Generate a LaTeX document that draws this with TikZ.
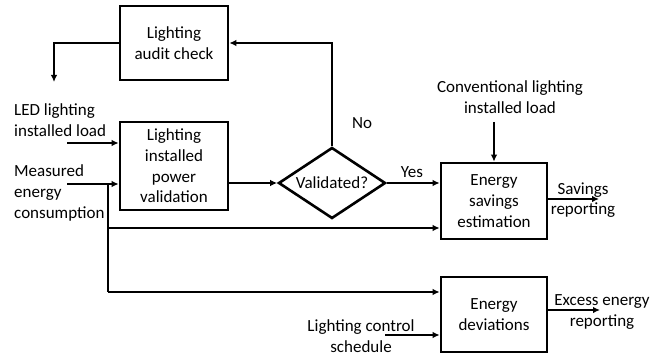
\documentclass[tikz,border=0pt]{standalone}
\usepackage{fontspec}
\setmainfont{Carlito}
\usetikzlibrary{shapes.geometric,arrows.meta}
\begin{document}
\begin{tikzpicture}[x=1pt,y=-1pt,
  every node/.style={font=\fontsize{17}{20.7}\selectfont},
  box/.style={draw, line width=2.6pt, minimum width=106pt, align=center, inner sep=0pt},
  dia/.style={draw, diamond, line width=2.6pt, minimum width=107pt, minimum height=71pt, inner sep=0pt},
  lbl/.style={inner sep=0pt, align=center},
  conn/.style={line width=1.4pt, -{Latex[length=7pt,width=6.5pt]}},
  wire/.style={line width=1.4pt}]
\useasboundingbox (0,0) rectangle (671,358);
% boxes
\node[box, minimum width=108pt, minimum height=74pt] (audit) at (174,43) {Lighting\\audit check};
\node[box, minimum width=108pt, minimum height=88pt] (valid) at (174,166) {Lighting\\installed\\power\\validation};
\node[dia] (val) at (332,183) {\makebox[0pt]{Validated?}};
\node[box, minimum height=76pt] (sav) at (494,201) {Energy\\savings\\estimation};
\node[box, minimum height=75pt] (dev) at (494,314.5) {Energy\\deviations};
% labels
\node[lbl, anchor=west, align=left] (led) at (14,120) {LED lighting\\installed load};
\node[lbl, anchor=west, align=left] (meas) at (14,193) {Measured\\energy\\consumption};
\node[lbl] (conv) at (510,97) {Conventional lighting\\installed load};
\node[lbl] (no) at (362,123) {No};
\node[lbl] (yes) at (412,172) {Yes};
\node[lbl] (savr) at (583,200) {Savings\\reporting};
\node[lbl] (exr) at (602,312) {Excess energy\\reporting};
\node[lbl] (sch) at (361,336) {Lighting control\\schedule};
% coordinates
\coordinate (auditout) at (54,82);
\coordinate (ledin) at (67,143);
\coordinate (measin) at (67,184);
\coordinate (j) at (108,184);
\coordinate (mid) at (108,228);
\coordinate (lo) at (108,292);
\coordinate (convout) at (494,122);
\coordinate (savout) at (599,199);
\coordinate (devout) at (600,310);
\coordinate (schin) at (385,335);
% connectors
\draw[conn] (audit.west) -| (auditout);
\draw[conn] (val.north) |- (audit.east);
\draw[conn] (ledin) -- (ledin -| valid.west);
\draw[conn] (measin) -- (measin -| valid.west);
\draw[conn] (valid.east |- val) -- (val.west);
\draw[conn] (val.east) -- (val.east -| sav.west);
\draw[wire] (j) -- (lo);
\draw[conn] (mid) -- (mid -| sav.west);
\draw[conn] (lo) -- (lo -| dev.west);
\draw[conn] (convout) -- (sav.north);
\draw[conn] (sav.east |- savout) -- (savout);
\draw[conn] (dev.east |- devout) -- (devout);
\draw[conn] (schin) -- (schin -| dev.west);
\end{tikzpicture}
\end{document}
